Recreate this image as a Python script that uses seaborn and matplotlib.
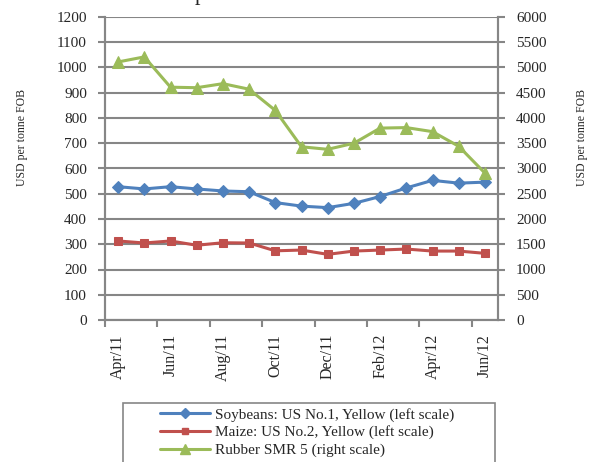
import matplotlib
matplotlib.use("Agg")
import matplotlib.pyplot as plt
import seaborn as sns
import pandas as pd
import numpy as np
from matplotlib.patches import Rectangle
from matplotlib.lines import Line2D

months = ["Apr/11", "May/11", "Jun/11", "Jul/11", "Aug/11", "Sep/11", "Oct/11", "Nov/11",
          "Dec/11", "Jan/12", "Feb/12", "Mar/12", "Apr/12", "May/12", "Jun/12"]
soybeans = [528, 519, 528, 519, 511, 508, 465, 451, 445, 462, 489, 523, 553, 542, 546]
maize = [313, 305, 313, 296, 306, 305, 274, 277, 260, 273, 277, 281, 273, 273, 264]
rubber = [5110, 5210, 4610, 4600, 4680, 4570, 4150, 3430, 3380, 3500, 3800, 3810, 3730, 3440, 2910]

labels = ["Soybeans: US No.1, Yellow (left scale)",
          "Maize: US No.2, Yellow (left scale)",
          "Rubber SMR 5 (right scale)"]
colors = ["#4F81BD", "#C0504D", "#9BBB59"]

sns.set_theme(style="white")
plt.rcParams["font.family"] = ["Liberation Serif", "DejaVu Serif"]

df = pd.DataFrame({"idx": np.arange(len(months)), "soy": soybeans, "maize": maize, "rubber": rubber})

fig = plt.figure(figsize=(5.91, 4.62), dpi=100)
ax = fig.add_axes([105/591, 1-320/462, (498-105)/591, (320-17)/462])
ax2 = ax.twinx()

grid_c = "#868686"
fs = 11
sns.lineplot(data=df, x="idx", y="soy", ax=ax, color=colors[0], marker="D", markersize=6,
             markeredgecolor=colors[0], linewidth=2.2)
sns.lineplot(data=df, x="idx", y="maize", ax=ax, color=colors[1], marker="s", markersize=6,
             markeredgecolor=colors[1], linewidth=2.2)
sns.lineplot(data=df, x="idx", y="rubber", ax=ax2, color=colors[2], marker="^", markersize=8,
             markeredgecolor=colors[2], linewidth=2.2)

ax.set_xlim(-0.5, len(months) - 0.5)
ax.set_ylim(0, 1200)
ax.set_yticks(range(0, 1201, 100))
ax2.set_ylim(0, 6000)
ax2.set_yticks(range(0, 6001, 500))
ax.grid(axis="y", color=grid_c, linewidth=1.5)
ax.set_axisbelow(True)

ax.set_xticks(np.arange(-0.5, len(months) - 0.5, 2))
ax.set_xticklabels([])
ax.set_xticks(np.arange(0, len(months), 2), minor=True)
ax.set_xticklabels([months[i] for i in range(0, len(months), 2)], minor=True, rotation=90,
                   fontsize=fs + 0.5)
ax.tick_params(axis="x", which="major", length=5, width=1.5, color=grid_c, direction="out", bottom=True)
ax.tick_params(axis="x", which="minor", length=0, pad=10, bottom=True)
ax.tick_params(axis="y", length=5, width=1.5, color=grid_c, direction="out", left=True, labelsize=fs, pad=8)
ax2.tick_params(axis="y", length=5, width=1.5, color=grid_c, direction="out", right=True, labelsize=fs, pad=8)

for a in (ax, ax2):
    a.spines["top"].set_visible(False)
    for s in ("left", "right", "bottom"):
        a.spines[s].set_color(grid_c)
        a.spines[s].set_linewidth(1.5)

ax.set_xlabel("")
ax.set_ylabel("USD per tonne FOB", fontsize=8.5, va="center")
ax2.set_ylabel("USD per tonne FOB", fontsize=8.5, va="center", rotation=90)
ax.yaxis.set_label_coords((22 - 105) / 393, (320 - 137) / 303)
ax2.yaxis.set_label_coords((582 - 105) / 393, (320 - 137) / 303)

fig.text(200/591, 1.0, "p", fontsize=16, ha="center", va="baseline")

handles = [Line2D([], [], color=colors[0], marker="D", markersize=5, linewidth=2.2),
           Line2D([], [], color=colors[1], marker="s", markersize=5, linewidth=2.2),
           Line2D([], [], color=colors[2], marker="^", markersize=7, linewidth=2.2)]
fig.legend(handles, labels, loc="upper left", bbox_to_anchor=(149/591, 1 - 397/462),
           frameon=False, fontsize=fs, handlelength=3.3, handletextpad=0.3, labelspacing=0.25,
           borderpad=0.2)
fig.patches.append(Rectangle((123/591, -0.05), (495-123)/591, 0.05 + (462-403)/462,
                             transform=fig.transFigure, fill=False, edgecolor=grid_c, linewidth=1.2))

fig.savefig("out.png", dpi=100)
